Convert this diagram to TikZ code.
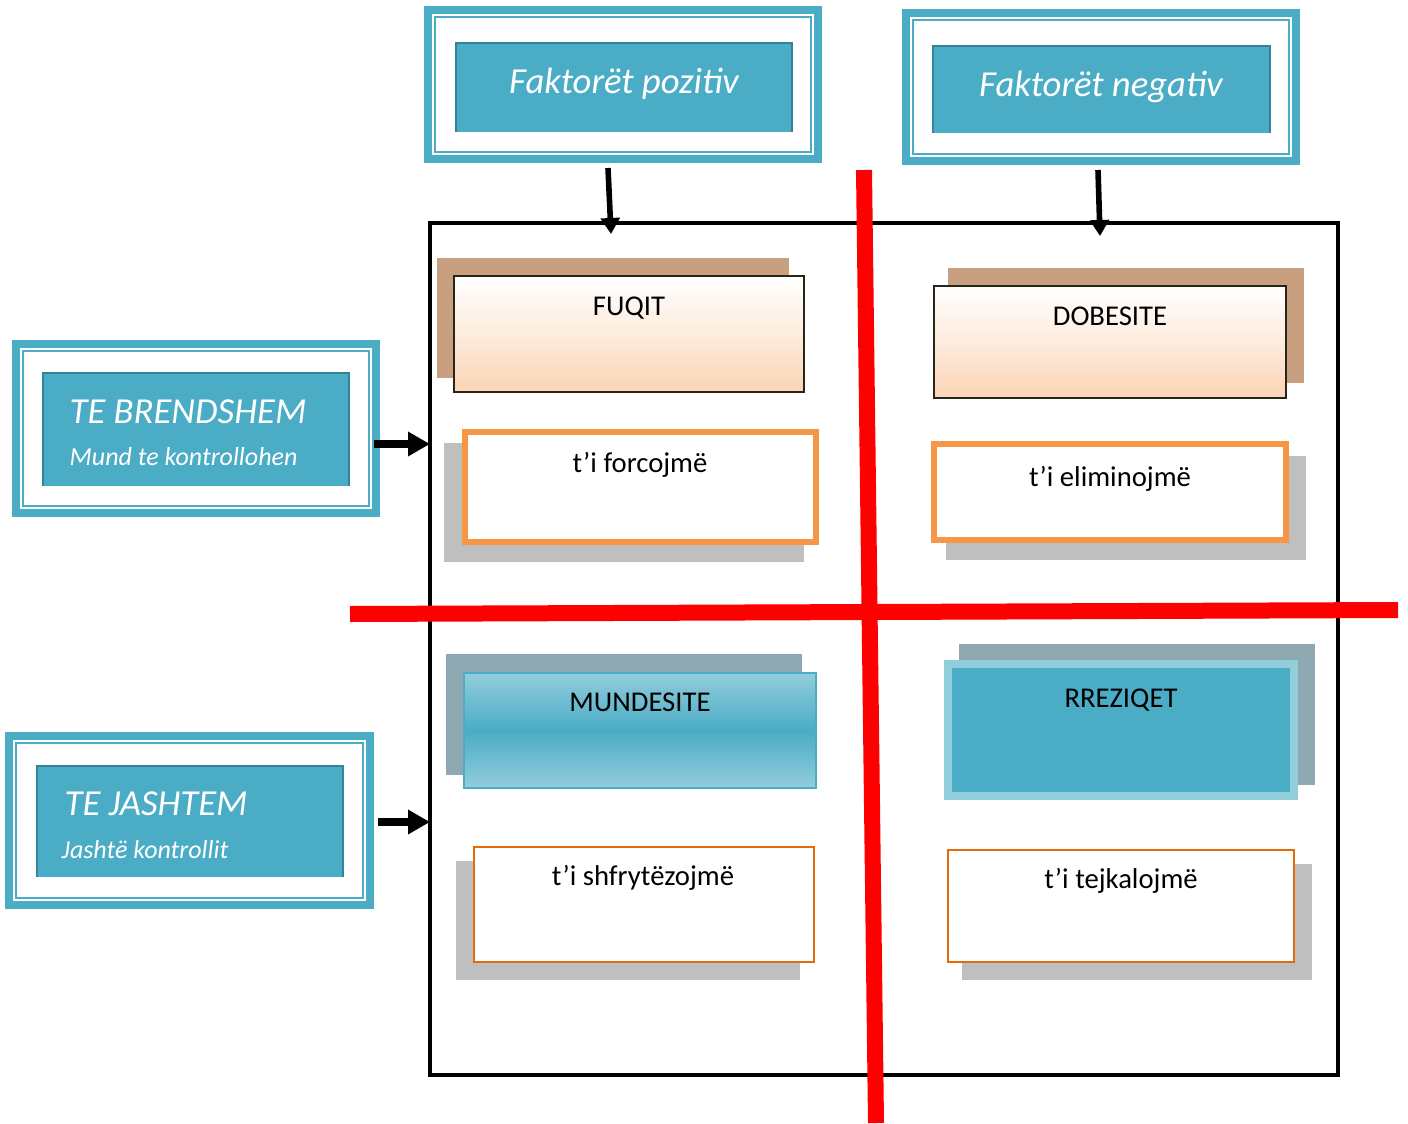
\documentclass[tikz,border=0pt]{standalone}
\usepackage{fontspec}
\setmainfont{Carlito}
\usetikzlibrary{fit,arrows.meta,calc}

\definecolor{tealA}{HTML}{4BACC6}
\definecolor{tealD}{HTML}{31849B}
\definecolor{tealL}{HTML}{92CDDC}
\definecolor{tanS}{HTML}{C8A080}
\definecolor{peach}{HTML}{FBD4B4}
\definecolor{orangeA}{HTML}{F79646}
\definecolor{orangeD}{HTML}{E36C09}
\definecolor{greyS}{HTML}{BFBFBF}
\definecolor{slateS}{HTML}{8EA9B1}
\definecolor{boxline}{HTML}{262619}

% framed heading: teal band, thin teal rule, white gap
\newcommand\tealframe[5]{%
  \node[box, fill=tealA, fit={(#2,#3) (#4,#5)}] (#1) {};
  \fill[white] ([shift={(8,8)}]#1.north west) rectangle ([shift={(-8,-8)}]#1.south east);
  \draw[tealA, line width=1.6pt] ([shift={(11,11)}]#1.north west) rectangle ([shift={(-11,-11)}]#1.south east);
}
% inner teal plate of a framed heading
\newcommand\tealplate[5]{%
  \node[box, fill=tealA, fit={(#2,#3) (#4,#5)}] (#1) {};
  \draw[tealD, line width=1.2pt] (#1.south west) -- (#1.north west) -- (#1.north east) -- (#1.south east);
}

\begin{document}
\begin{tikzpicture}[x=0.75pt, y=-0.75pt,
  box/.style={inner sep=0pt, outer sep=0pt, rectangle},
  headT/.style={white, font=\itshape\fontsize{27.5}{30}\selectfont},
  subT/.style={white, font=\itshape\fontsize{19.5}{22}\selectfont},
  cellT/.style={black, font=\fontsize{21.5}{24}\selectfont, anchor=base},
  thinarr/.style={line width=4.2pt, -{Triangle[length=12pt, width=14pt]}},
  thickarr/.style={line width=5.5pt, -{Triangle[length=16.5pt, width=17.5pt]}},
  redline/.style={red, line width=12pt, line cap=butt}]

\useasboundingbox (0,0) rectangle (1408,1123);

% ---- column headings ----
\tealframe{pos}{424}{6}{822}{163}
\tealplate{posP}{456}{43}{792}{132}
\node[headT, anchor=base] (posT) at (624,94) {Faktorët pozitiv};

\tealframe{neg}{902}{9}{1300}{165}
\tealplate{negP}{933}{46}{1270}{133}
\node[headT, anchor=base] (negT) at (1101,97) {Faktorët negativ};

% ---- row headings ----
\tealframe{brend}{12}{340}{380}{517}
\tealplate{brendP}{43}{373}{349}{486}
\node[headT, anchor=base west] (brendT) at (65,423) {TE BRENDSHEM};
\node[subT, anchor=base west] (brendS) at (65,465) {Mund te kontrollohen};

\tealframe{jash}{5}{732}{374}{909}
\tealplate{jashP}{37}{766}{343}{877}
\node[headT, anchor=base west] (jashT) at (60,815) {TE JASHTEM};
\node[subT, anchor=base west] (jashS) at (57,858) {Jashtë kontrollit};

% ---- matrix frame ----
\node[box, draw=black, line width=3pt, fit={(430,223) (1338,1075)}] (swot) {};

% ---- top-left cell ----
\node[box, fill=tanS, fit={(437,258) (789,378)}] (fuqitS) {};
\node[box, draw=boxline, line width=1.8pt, top color=white, bottom color=peach, middle color=peach!45,
      fit={(454,276) (804,392)}] (fuqit) {};
\node[cellT] (fuqitT) at (629,315) {FUQIT};

\node[box, fill=greyS, fit={(444,443) (804,562)}] (forcS) {};
\node[box, fill=white, draw=orangeA, line width=4.2pt, fit={(465,432) (816,542)}] (forc) {};
\node[cellT] (forcT) at (640,472) {t’i forcojmë};

% ---- top-right cell ----
\node[box, fill=tanS, fit={(948,268) (1304,383)}] (dobS) {};
\node[box, draw=boxline, line width=1.8pt, top color=white, bottom color=peach, middle color=peach!45,
      fit={(934,286) (1286,398)}] (dob) {};
\node[cellT] (dobT) at (1110,325) {DOBESITE};

\node[box, fill=greyS, fit={(946,456) (1306,560)}] (elimS) {};
\node[box, fill=white, draw=orangeA, line width=4.2pt, fit={(934,444) (1286,540)}] (elim) {};
\node[cellT] (elimT) at (1110,486) {t’i eliminojmë};

% ---- bottom-left cell ----
\node[box, fill=slateS, fit={(446,654) (802,775)}] (mundS) {};
\node[box, draw=tealA, line width=1.8pt, top color=tealL, bottom color=tealL, middle color=tealA,
      fit={(464,673) (816,788)}] (mund) {};
\node[cellT] (mundT) at (640,711) {MUNDESITE};

\node[box, fill=greyS, fit={(456,861) (800,980)}] (shfS) {};
\node[box, fill=white, draw=orangeD, line width=1.6pt, fit={(474,847) (814,962)}] (shf) {};
\node[cellT] (shfT) at (643,885) {t’i shfrytëzojmë};

% ---- bottom-right cell ----
\node[box, fill=slateS, fit={(959,644) (1315,785)}] (rrezS) {};
\node[box, fill=tealA, draw=tealL, line width=6pt, fit={(948,664) (1294,796)}] (rrez) {};
\node[cellT] (rrezT) at (1121,707) {RREZIQET};

\node[box, fill=greyS, fit={(962,864) (1312,980)}] (tejS) {};
\node[box, fill=white, draw=orangeD, line width=1.6pt, fit={(948,850) (1294,962)}] (tej) {};
\node[cellT] (tejT) at (1121,888) {t’i tejkalojmë};

% ---- dividing cross ----
\coordinate (vTop) at (864,170);
\coordinate (vBot) at (876,1123);
\coordinate (hL) at (350,614);
\coordinate (hR) at (1398,610);
\draw[redline] (hL) -- (hR);
\draw[redline] (vTop) -- (vBot);

% ---- arrows into the matrix ----
\coordinate (t1) at ($(pos.south)+(-15,5)$);
\coordinate (t1e) at (611,234);
\draw[thinarr] (t1) -- (t1e);
\coordinate (t2) at ($(neg.south)+(-3,5)$);
\coordinate (t2e) at (1100,236);
\draw[thinarr] (t2) -- (t2e);

\coordinate (b1) at ($(brend.east)+(-6,15.5)$);
\draw[thickarr] (b1) -- (b1 -| swot.west);
\coordinate (b2) at ($(jash.east)+(4,1.5)$);
\draw[thickarr] (b2) -- (b2 -| swot.west);

\end{tikzpicture}
\end{document}
